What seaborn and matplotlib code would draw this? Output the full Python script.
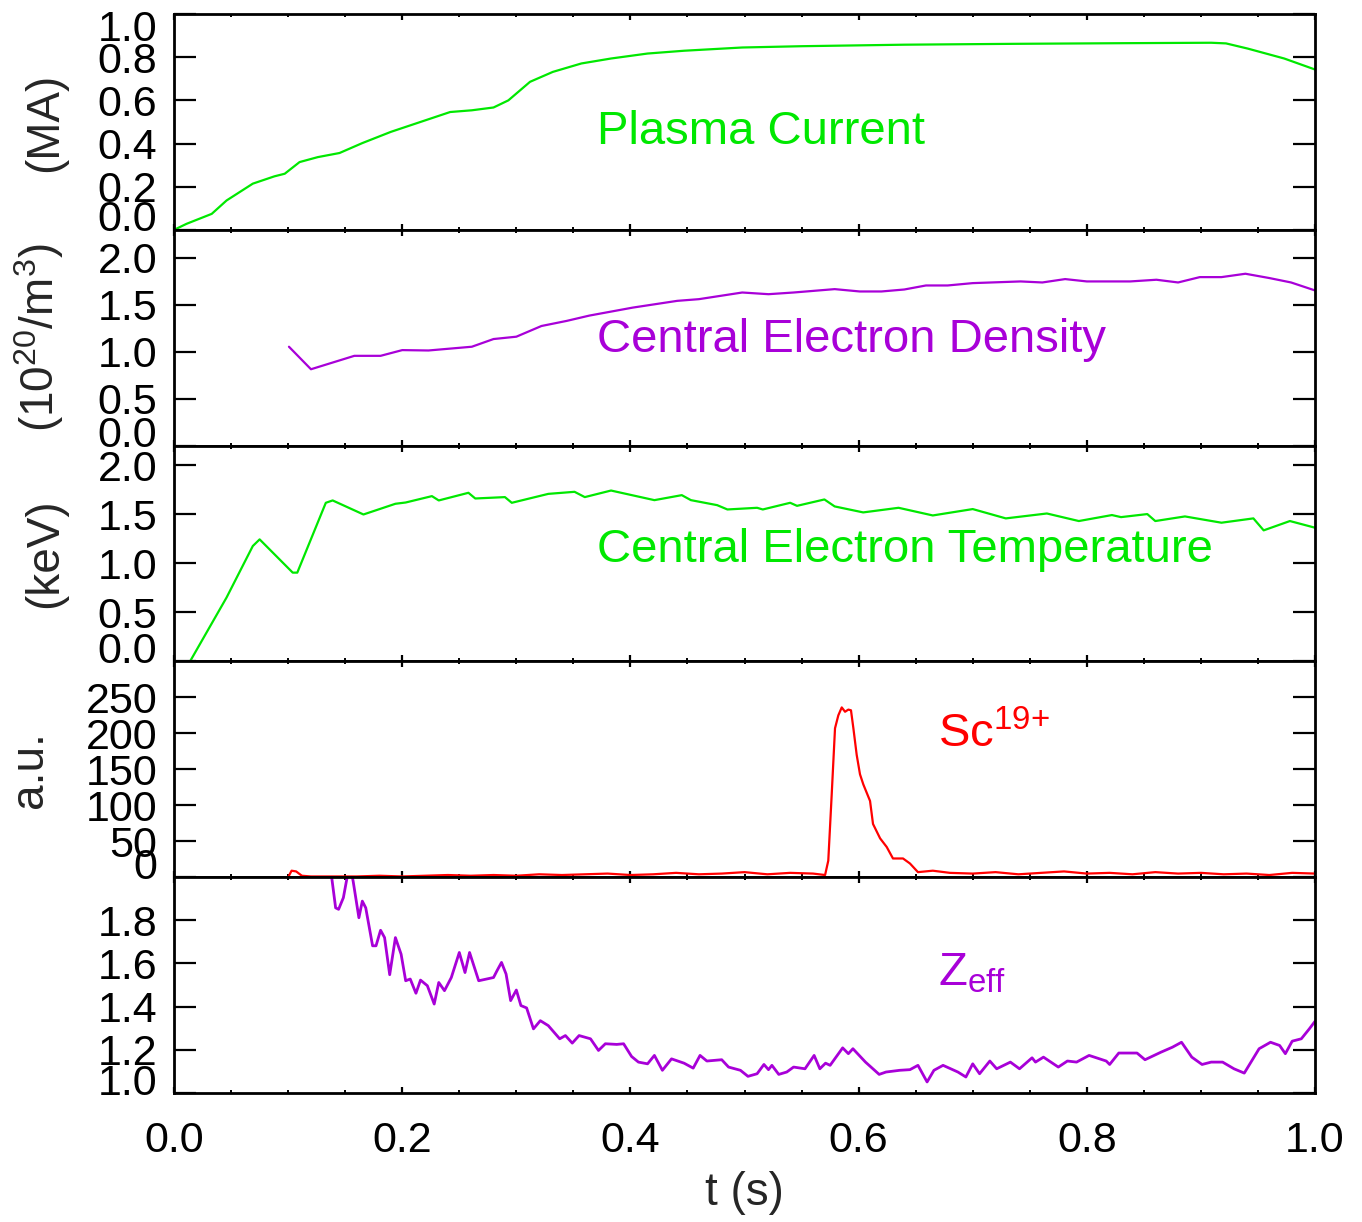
import numpy as np
import seaborn as sns
import matplotlib.pyplot as plt
from matplotlib.ticker import MultipleLocator
from matplotlib.transforms import ScaledTranslation

# ---- data (time in s) ----
current_t = [0.0, 0.011, 0.033, 0.046, 0.069, 0.088, 0.097, 0.11, 0.126, 0.145, 0.165,
             0.19, 0.216, 0.242, 0.261, 0.28, 0.293, 0.312, 0.332, 0.357, 0.383, 0.415,
             0.447, 0.498, 0.55, 0.64, 0.736, 0.832, 0.909, 0.922, 0.941, 0.973, 1.0]
current = [0.0, 0.028, 0.074, 0.136, 0.214, 0.248, 0.26, 0.314, 0.337, 0.356, 0.402,
           0.454, 0.5, 0.546, 0.554, 0.567, 0.6, 0.686, 0.732, 0.771, 0.794, 0.817,
           0.83, 0.845, 0.851, 0.858, 0.862, 0.865, 0.867, 0.864, 0.84, 0.794, 0.743]

dens_t = [0.1007, 0.12, 0.158, 0.181, 0.2, 0.223, 0.261, 0.28, 0.3, 0.322, 0.344, 0.364,
          0.402, 0.441, 0.46, 0.498, 0.521, 0.543, 0.579, 0.601, 0.62, 0.64, 0.659, 0.678,
          0.7, 0.742, 0.761, 0.781, 0.8, 0.838, 0.861, 0.88, 0.899, 0.918, 0.939, 0.96,
          0.979, 1.0]
dens = [1.054, 0.814, 0.957, 0.957, 1.018, 1.014, 1.054, 1.136, 1.161, 1.275, 1.329, 1.386,
        1.471, 1.543, 1.561, 1.632, 1.614, 1.632, 1.668, 1.643, 1.643, 1.664, 1.707, 1.707,
        1.732, 1.75, 1.739, 1.775, 1.75, 1.75, 1.768, 1.739, 1.796, 1.796, 1.832, 1.786,
        1.739, 1.654]

temp_t = [0.0, 0.014, 0.046, 0.069, 0.075, 0.104, 0.108, 0.133, 0.139, 0.166, 0.194, 0.203,
          0.226, 0.232, 0.258, 0.264, 0.29, 0.296, 0.328, 0.351, 0.36, 0.383, 0.421, 0.445,
          0.453, 0.476, 0.485, 0.511, 0.516, 0.54, 0.546, 0.57, 0.579, 0.604, 0.635, 0.665,
          0.7, 0.729, 0.765, 0.793, 0.822, 0.83, 0.853, 0.86, 0.886, 0.918, 0.946, 0.955,
          0.978, 1.0]
temp = [0.0, 0.0, 0.651, 1.176, 1.244, 0.905, 0.905, 1.617, 1.641, 1.498, 1.607, 1.62,
        1.685, 1.641, 1.719, 1.661, 1.675, 1.617, 1.708, 1.729, 1.675, 1.742, 1.644, 1.695,
        1.644, 1.593, 1.549, 1.566, 1.549, 1.617, 1.586, 1.651, 1.58, 1.519, 1.566, 1.488,
        1.553, 1.458, 1.508, 1.431, 1.492, 1.471, 1.502, 1.431, 1.478, 1.414, 1.458, 1.336,
        1.431, 1.363]

sc_t = [0.100, 0.103, 0.107, 0.112, 0.120, 0.14, 0.16, 0.18, 0.20, 0.22, 0.24, 0.26, 0.28,
        0.30, 0.32, 0.34, 0.36, 0.38, 0.40, 0.42, 0.44, 0.46, 0.48, 0.50, 0.52, 0.54, 0.56,
        0.5706, 0.5734, 0.5764, 0.5793, 0.5822, 0.5852, 0.5881, 0.591, 0.5933, 0.5954,
        0.5983, 0.6012, 0.6041, 0.61, 0.6126, 0.6188, 0.6246, 0.6301, 0.6389, 0.645, 0.652,
        0.665, 0.68, 0.70, 0.72, 0.74, 0.76, 0.78, 0.80, 0.82, 0.84, 0.86, 0.88, 0.90,
        0.92, 0.94, 0.96, 0.98, 1.0]
sc = [0, 9, 8, 2, 1, 1, 1, 2, 1, 2, 3, 2, 3, 2, 4, 3, 4, 5, 3, 4, 6, 4, 5, 7, 4, 6, 5,
      3, 23, 115, 207, 225, 236, 230, 233, 232, 207, 170, 143, 129, 106, 74, 54, 42, 26,
      26, 19, 7, 9, 6, 5, 7, 4, 6, 8, 5, 6, 4, 7, 5, 6, 4, 5, 3, 6, 5]

zeff_t = [0.136, 0.1384, 0.1416, 0.1442, 0.1484, 0.1516, 0.1545, 0.157, 0.162, 0.165, 0.168,
          0.174, 0.177, 0.181, 0.1845, 0.189, 0.194, 0.199, 0.203, 0.207, 0.212, 0.216,
          0.222, 0.228, 0.232, 0.237, 0.243, 0.25, 0.255, 0.259, 0.267, 0.28, 0.283, 0.287,
          0.291, 0.295, 0.3, 0.304, 0.309, 0.315, 0.321, 0.328, 0.338, 0.343, 0.349, 0.355,
          0.365, 0.372, 0.378, 0.388, 0.394, 0.401, 0.407, 0.415, 0.421, 0.428, 0.436,
          0.447, 0.455, 0.461, 0.467, 0.48, 0.486, 0.4964, 0.503, 0.511, 0.517, 0.521,
          0.524, 0.53, 0.537, 0.543, 0.553, 0.561, 0.566, 0.571, 0.575, 0.586, 0.591, 0.595,
          0.606, 0.618, 0.624, 0.636, 0.645, 0.652, 0.66, 0.666, 0.674, 0.687, 0.694, 0.7,
          0.706, 0.715, 0.721, 0.733, 0.741, 0.752, 0.755, 0.762, 0.775, 0.783, 0.791,
          0.802, 0.817, 0.82, 0.828, 0.844, 0.851, 0.865, 0.875, 0.883, 0.892, 0.901,
          0.909, 0.919, 0.929, 0.938, 0.951, 0.961, 0.969, 0.974, 0.98, 0.988, 0.995, 1.0]
zeff = [2.05, 1.989, 1.858, 1.851, 1.905, 1.997, 2.05, 1.98, 1.812, 1.889, 1.858,
        1.682, 1.682, 1.754, 1.72, 1.548, 1.72, 1.643, 1.52, 1.528, 1.462, 1.523,
        1.497, 1.412, 1.512, 1.474, 1.535, 1.651, 1.558, 1.651, 1.52, 1.535, 1.566, 1.605,
        1.551, 1.428, 1.477, 1.405, 1.394, 1.297, 1.335, 1.312, 1.251, 1.266, 1.231, 1.266,
        1.251, 1.197, 1.228, 1.225, 1.228, 1.169, 1.143, 1.135, 1.174, 1.105, 1.158,
        1.138, 1.115, 1.174, 1.148, 1.154, 1.12, 1.105, 1.077, 1.089, 1.132, 1.108,
        1.128, 1.086, 1.097, 1.12, 1.112, 1.174, 1.112, 1.138, 1.128, 1.209, 1.182, 1.205,
        1.143, 1.086, 1.097, 1.105, 1.108, 1.128, 1.051, 1.105, 1.128, 1.097, 1.074, 1.135,
        1.089, 1.148, 1.112, 1.143, 1.112, 1.163, 1.143, 1.166, 1.12, 1.148, 1.143,
        1.174, 1.148, 1.132, 1.185, 1.185, 1.154, 1.189, 1.212, 1.235, 1.166, 1.132,
        1.143, 1.143, 1.112, 1.092, 1.205, 1.235, 1.22, 1.182, 1.24, 1.251, 1.297, 1.332]

# ---- panel setup ----
green = '#00e800'
purple = '#a800d8'
red = '#ff0000'

panels = [
    dict(t=current_t, y=current, color=green, lw=1.6, ylabel='(MA)', ylim=(0, 1.0),
         yticks=[0.0, 0.2, 0.4, 0.6, 0.8, 1.0],
         yticklabels=['0.0', '0.2', '0.4', '0.6', '0.8', '1.0'],
         label='Plasma Current', lpos=(0.371, 0.40), lx=-0.094),
    dict(t=dens_t, y=dens, color=purple, lw=1.6, ylabel='(10$^{20}$/m$^3$)', ylim=(0, 2.3),
         yticks=[0.0, 0.5, 1.0, 1.5, 2.0], yticklabels=['0.0', '0.5', '1.0', '1.5', '2.0'],
         label='Central Electron Density', lpos=(0.371, 0.435), lx=-0.095),
    dict(t=temp_t, y=temp, color=green, lw=1.6, ylabel='(keV)', ylim=(0, 2.2),
         yticks=[0.0, 0.5, 1.0, 1.5, 2.0], yticklabels=['0.0', '0.5', '1.0', '1.5', '2.0'],
         label='Central Electron Temperature', lpos=(0.371, 0.46), lx=-0.094),
    dict(t=sc_t, y=sc, color=red, lw=1.6, ylabel='a.u.', ylim=(0, 300),
         yticks=[0, 50, 100, 150, 200, 250], yticklabels=['0', '50', '100', '150', '200', '250'],
         label=r'$\mathregular{Sc^{19{+}}}$', lpos=(0.670, 0.60), lx=-0.107),
    dict(t=zeff_t, y=zeff, color=purple, lw=2.0, ylabel='', ylim=(1.0, 2.0),
         yticks=[1.0, 1.2, 1.4, 1.6, 1.8], yticklabels=['1.0', '1.2', '1.4', '1.6', '1.8'],
         label=r'Z$_{\mathregular{eff}}$', lpos=(0.670, 0.50), lx=-0.1),
]

sns.set_theme(style='ticks')
plt.rcParams['font.family'] = ['Liberation Sans', 'DejaVu Sans']
plt.rcParams['mathtext.fontset'] = 'custom'
plt.rcParams['mathtext.rm'] = 'Liberation Sans'
plt.rcParams['mathtext.it'] = 'Liberation Sans:italic'
plt.rcParams['mathtext.default'] = 'regular'

fig, axes = plt.subplots(5, 1, sharex=True, figsize=(13.62, 12.22), dpi=100)
fig.subplots_adjust(left=0.1278, right=0.9655, top=0.9885, bottom=0.1056, hspace=0)

for ax, p in zip(axes, panels):
    sns.lineplot(x=p['t'], y=p['y'], ax=ax, color=p['color'], linewidth=p['lw'],
                 estimator=None, sort=False)
    ax.set_xlim(0, 1.0)
    ax.set_ylim(*p['ylim'])
    ax.set_yticks(p['yticks'])
    ax.set_yticklabels(p['yticklabels'])
    ax.xaxis.set_major_locator(MultipleLocator(0.2))
    ax.xaxis.set_minor_locator(MultipleLocator(0.05))
    ax.tick_params(axis='both', which='both', direction='in', top=True, right=True,
                   colors='black')
    ax.tick_params(axis='y', which='major', length=16, width=1.6, labelsize=31, pad=12)
    ax.tick_params(axis='x', which='major', length=4, width=1.6, labelsize=31, pad=20)
    ax.tick_params(axis='x', which='minor', length=2.5, width=1.4)
    for s in ax.spines.values():
        s.set_linewidth(2.0)
        s.set_color('black')
    ax.set_ylabel(p['ylabel'], fontsize=33)
    ax.yaxis.set_label_coords(p['lx'], 0.5)
    ax.text(p['lpos'][0], p['lpos'][1], p['label'], transform=ax.transAxes,
            color=p['color'], fontsize=34, ha='left', va='baseline')

axes[-1].set_xticks([0.0, 0.2, 0.4, 0.6, 0.8, 1.0])
axes[-1].set_xticklabels(['0.0', '0.2', '0.4', '0.6', '0.8', '1.0'])
axes[-1].set_xlabel('t (s)', fontsize=33)
axes[-1].xaxis.set_label_coords(0.5, -0.36)

# end labels sit inside the panel, like the original plot
up = ScaledTranslation(0, 10 / 72, fig.dpi_scale_trans)
down = ScaledTranslation(0, -8 / 72, fig.dpi_scale_trans)
for i, ax in enumerate(axes):
    labels = ax.get_yticklabels()
    labels[0].set_transform(labels[0].get_transform() + up)
    if i == 0:
        labels[-1].set_transform(labels[-1].get_transform() + down)

fig.savefig('out.png', dpi=100)
